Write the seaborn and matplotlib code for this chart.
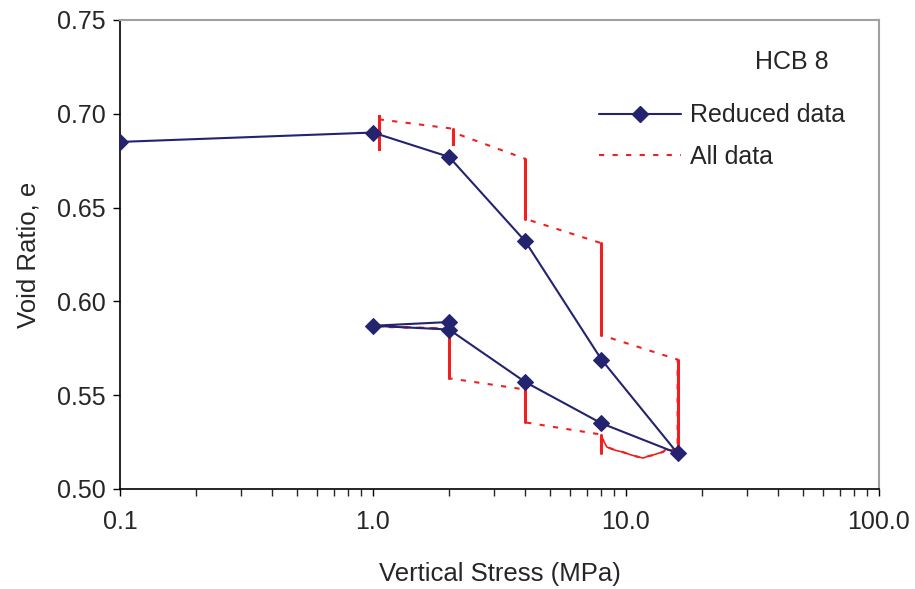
import pandas as pd
import numpy as np
import matplotlib
matplotlib.use('Agg')
import matplotlib.pyplot as plt
from matplotlib.lines import Line2D
from matplotlib.ticker import LogLocator, NullFormatter
import seaborn as sns

# Reduced data (one point per load step)
reduced_stress = [0.1, 1.0, 2.0, 4.0, 8.0, 16.0, 8.0, 4.0, 2.0, 1.0, 2.0]
reduced_e = [0.685, 0.690, 0.677, 0.632, 0.569, 0.519, 0.535, 0.557, 0.585, 0.587, 0.589]

# All data: creep readings held at each stress level
hold_stress = [1.06, 2.08, 4.0, 8.0, 16.0, 8.0, 4.0, 2.0, 1.0, 2.0]
hold_e = [
    [0.683, 0.681, 0.699, 0.697],
    [0.692, 0.684, 0.690],
    [0.676, 0.644],
    [0.631, 0.582],
    [0.569, 0.520],
    [0.519, 0.529],
    [0.5355, 0.5555, 0.553],
    [0.559, 0.5855],
    [0.5865, 0.5868],
    [0.5855, 0.586],
]
# unloading ramp 16 -> 8 MPa (noisy readings)
ramp_stress = [16.0, 15.4, 14.9, 14.4, 14.0, 13.4, 12.8, 12.2, 11.7, 11.1,
               10.4, 9.7, 9.1, 8.4, 8.05]
ramp_e = [0.520, 0.5212, 0.5206, 0.5212, 0.5197, 0.5190, 0.5181, 0.5174, 0.5165,
          0.5172, 0.5183, 0.5197, 0.5206, 0.5224, 0.527]

navy = '#23236f'
red = '#f02020'

# Build the tables
reduced = pd.DataFrame({'stress': reduced_stress, 'e': reduced_e})
rows = []
for i, (s, es) in enumerate(zip(hold_stress, hold_e)):
    for e in es:
        rows.append({'step': i, 'stress': s, 'e': e})
holds = pd.DataFrame(rows)
ramp = pd.DataFrame({'stress': ramp_stress, 'e': ramp_e})
# full path in time order, ramp goes between step 4 and step 5
path = pd.concat([holds[holds.step <= 4][['stress', 'e']], ramp,
                  holds[holds.step >= 5][['stress', 'e']]], ignore_index=True)

sns.set_style('ticks')
plt.rcParams['font.family'] = ['Liberation Sans', 'DejaVu Sans']

fig = plt.figure(figsize=(9.15, 5.89), dpi=100)
ax = fig.add_axes([0.1311, 0.1698, 0.8295, 0.7963])

# All data: dotted path, solid creep verticals
sns.lineplot(data=path, x='stress', y='e', sort=False, estimator=None, ax=ax,
             color=red, linewidth=1.5, zorder=2)
ax.lines[-1].set_dashes((2.5, 4))
for step, grp in holds.groupby('step'):
    sns.lineplot(data=grp, x='stress', y='e', sort=False, estimator=None,
                 ax=ax, color=red, linewidth=2.2, zorder=3)
sns.lineplot(data=ramp, x='stress', y='e', sort=False, estimator=None, ax=ax,
             color=red, linewidth=1.2, zorder=3)

# Reduced data
sns.lineplot(data=reduced, x='stress', y='e', sort=False, estimator=None, ax=ax,
             color=navy, linewidth=1.5, marker='D', markersize=8,
             markeredgecolor=navy, zorder=4)

ax.set_xscale('log')
ax.set_xlim(0.1, 100)
ax.set_ylim(0.50, 0.75)
ax.set_xticks([0.1, 1, 10, 100])
ax.set_xticklabels(['0.1', '1.0', '10.0', '100.0'])
ax.xaxis.set_minor_locator(LogLocator(base=10, subs=np.arange(2, 10)))
ax.xaxis.set_minor_formatter(NullFormatter())
ax.set_yticks(np.arange(0.50, 0.751, 0.05))
ax.set_yticklabels([f'{v:.2f}' for v in np.arange(0.50, 0.751, 0.05)])

ax.tick_params(axis='both', which='major', labelsize=18, length=5, width=1,
               color='black', direction='out')
ax.tick_params(axis='y', which='major', pad=5)
ax.tick_params(axis='x', which='major', pad=10)
ax.tick_params(axis='x', which='minor', length=5, width=1, direction='out')
ax.set_xlabel('Vertical Stress (MPa)', fontsize=18.5, labelpad=20)
ax.set_ylabel('Void Ratio, e', fontsize=18.5, labelpad=12)

for side in ['left', 'bottom']:
    ax.spines[side].set_color('black')
    ax.spines[side].set_linewidth(1.2)
for side in ['top', 'right']:
    ax.spines[side].set_color('#a0a0a0')
    ax.spines[side].set_linewidth(1.5)

ax.text(0.885, 0.91, 'HCB 8', transform=ax.transAxes, ha='center', va='center',
        fontsize=18)

handles = [
    Line2D([], [], color=navy, linewidth=1.5, marker='D', markersize=8),
    Line2D([], [], color=red, linewidth=1.5, dashes=(2.5, 4)),
]
ax.legend(handles, ['Reduced data', 'All data'], loc='upper right',
          bbox_to_anchor=(0.985, 0.87), frameon=False, fontsize=18,
          handlelength=3.3, handletextpad=0.35, labelspacing=0.7)

fig.savefig('out.png', dpi=100)
